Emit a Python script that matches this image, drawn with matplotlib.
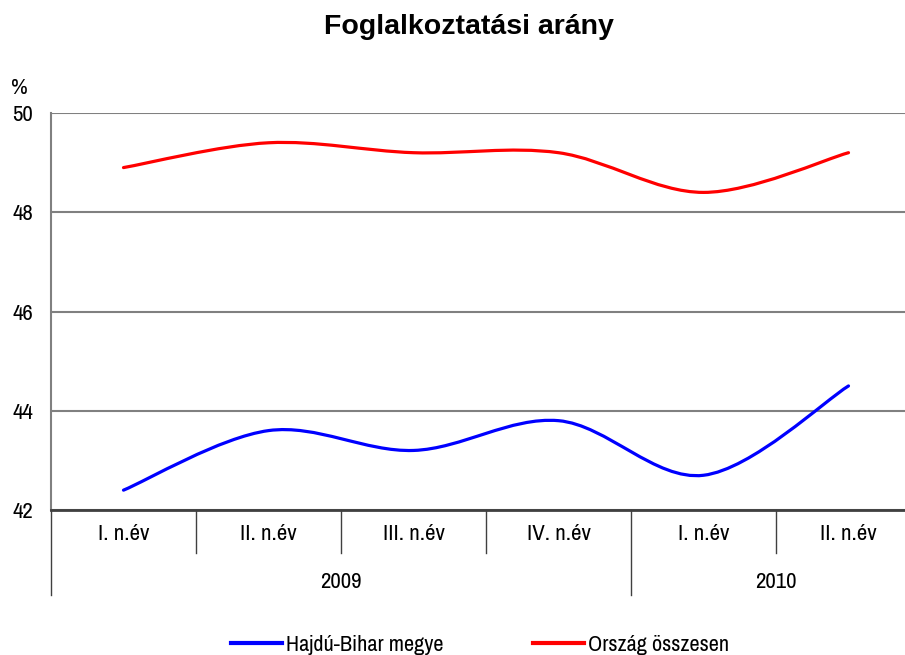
import matplotlib.pyplot as plt
from matplotlib.path import Path
from matplotlib.patches import PathPatch
from matplotlib.lines import Line2D
import matplotlib.transforms as mtransforms
from matplotlib import font_manager

# data
quarters = ["I. n.év", "II. n.év", "III. n.év", "IV. n.év", "I. n.év", "II. n.év"]
years = ["2009", "2010"]
year_spans = [(0, 4), (4, 6)]
hajdu = [42.4, 43.6, 43.2, 43.8, 42.7, 44.5]
orszag = [48.9, 49.4, 49.2, 49.2, 48.4, 49.2]

# narrow font if there is one
names = sorted({f.name for f in font_manager.fontManager.ttflist})
narrow = [n for n in names if "Narrow" in n or "Condensed" in n]
base = narrow[0] if narrow else "Liberation Sans"
plt.rcParams['font.family'] = [base, 'DejaVu Sans']
sz = 1.0 if narrow else 0.8

fig = plt.figure(figsize=(9.05, 6.55), dpi=100)
W, H = 905, 655
ax = fig.add_axes([51 / W, (H - 510) / H, (921 - 51) / W, (510 - 113) / H])


def smooth_path(ys):
    # excel-like smoothed line: cubic bezier through the points
    pts = list(zip(range(len(ys)), ys))
    verts = [pts[0]]
    codes = [Path.MOVETO]
    n = len(pts)
    for i in range(n - 1):
        p0 = pts[max(i - 1, 0)]
        p1 = pts[i]
        p2 = pts[i + 1]
        p3 = pts[min(i + 2, n - 1)]
        c1 = (p1[0] + (p2[0] - p0[0]) / 6, p1[1] + (p2[1] - p0[1]) / 6)
        c2 = (p2[0] - (p3[0] - p1[0]) / 6, p2[1] - (p3[1] - p1[1]) / 6)
        verts += [c1, c2, p2]
        codes += [Path.CURVE4] * 3
    return Path(verts, codes)


for ys, col in [(hajdu, "#0000ff"), (orszag, "#ff0000")]:
    ax.add_patch(PathPatch(smooth_path(ys), fill=False, edgecolor=col,
                           lw=2.3, capstyle='round', joinstyle='round', zorder=3))

ax.set_xlim(-0.5, len(quarters) - 0.5)
ax.set_ylim(42, 50)
ax.set_yticks([42, 44, 46, 48, 50])
ax.yaxis.grid(True, color="#808080", lw=1.5)
ax.set_axisbelow(True)
ax.tick_params(axis='y', length=0, labelsize=16.5 * sz, pad=13)
ax.set_xticks([])
for s in ['top', 'right']:
    ax.spines[s].set_visible(False)
ax.spines['left'].set_color("#808080")
ax.spines['left'].set_linewidth(1.5)
ax.spines['bottom'].set_color("#404040")
ax.spines['bottom'].set_linewidth(2)

# category axis (two levels)
trans = mtransforms.blended_transform_factory(ax.transData, ax.transAxes)
for i, q in enumerate(quarters):
    ax.text(i, -0.06, q, transform=trans, ha='center', va='center', fontsize=16.5 * sz)
for i in range(1, len(quarters)):
    if i in [s[0] for s in year_spans]:
        continue
    ax.plot([i - 0.5, i - 0.5], [0, -0.108], transform=trans, color="#404040",
            lw=1, clip_on=False)
for (a, b), y in zip(year_spans, years):
    ax.plot([a - 0.5, a - 0.5], [0, -0.214], transform=trans, color="#404040",
            lw=1, clip_on=False)
    ax.text((a + b - 1) / 2, -0.182, y, transform=trans, ha='center', va='center',
            fontsize=16.5 * sz)

fig.text(11 / W, 1 - 88 / H, "%", fontsize=16.5 * sz, ha='left', va='center')
fig.text(469 / W, 1 - 27 / H, "Foglalkoztatási arány", fontsize=20.5,
         fontweight='bold', ha='center', va='center', family='Liberation Sans')

handles = [Line2D([], [], color="#0000ff", lw=3), Line2D([], [], color="#ff0000", lw=3)]
ax.legend(handles, ["Hajdú-Bihar megye", "Ország összesen"], loc='center',
          bbox_to_anchor=(0.493, -0.34), ncol=2, frameon=False, fontsize=16 * sz,
          handlelength=2.3, handletextpad=0.2, columnspacing=4.0)

fig.savefig("out.png", dpi=100)
